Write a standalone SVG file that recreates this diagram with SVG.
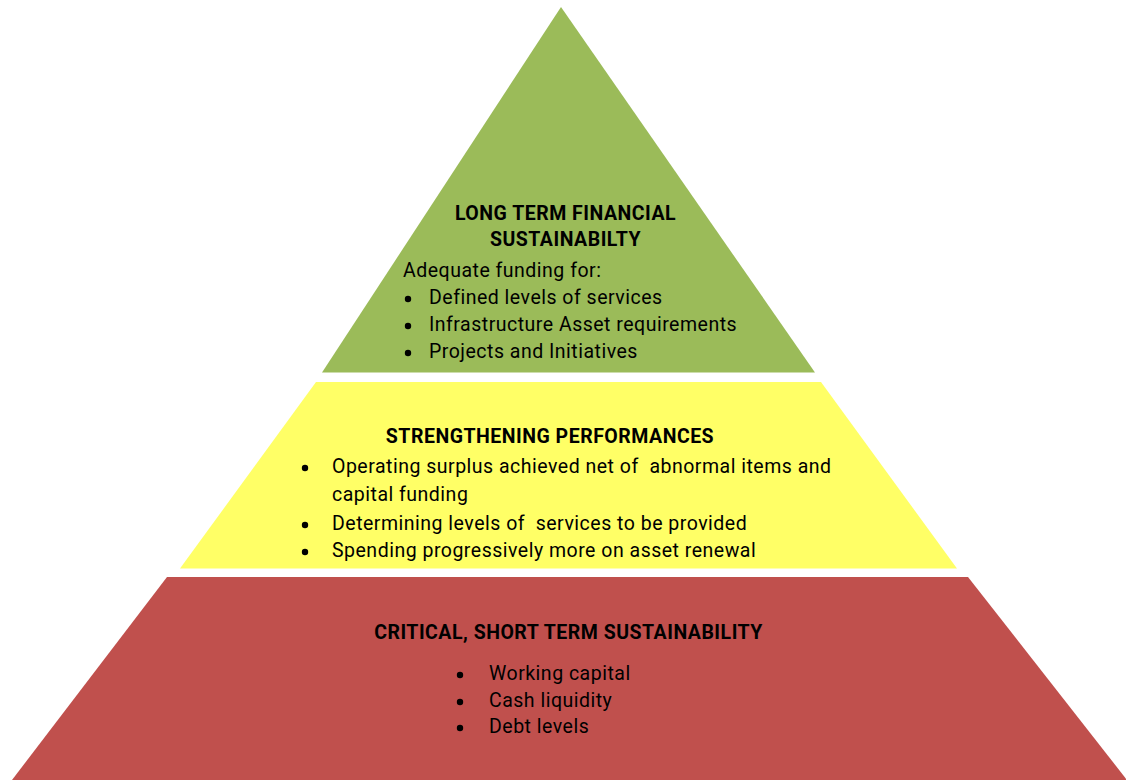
<svg xmlns="http://www.w3.org/2000/svg" width="1126" height="780" viewBox="0 0 1126 780">
<style>
text { font-family: Roboto, "Liberation Sans", sans-serif; fill: #000; white-space: pre; letter-spacing: 0.5px; }
.t { font-size: 19.5px; font-weight: bold; text-anchor: middle; }
.b { font-size: 19.5px; }
.d { fill: #000; }
</style>
<rect width="1126" height="780" fill="#fff"/>
<g id="tier-top">
<polygon points="561,7 815,372.5 322,372.5" fill="#9BBB59"/>
<text class="t" x="565.5" y="220">LONG TERM FINANCIAL</text>
<text class="t" x="565.5" y="246">SUSTAINABILTY</text>
<text class="b" x="403" y="277">Adequate funding for:</text>
<circle class="d" cx="408" cy="299" r="3.2"/><text class="b" x="429" y="304">Defined levels of services</text>
<circle class="d" cx="408" cy="326" r="3.2"/><text class="b" x="429" y="331">Infrastructure Asset requirements</text>
<circle class="d" cx="408" cy="353" r="3.2"/><text class="b" x="429" y="358">Projects and Initiatives</text>
</g>
<g id="tier-middle">
<polygon points="316,382 821,382 957,568.5 180,568.5" fill="#FFFF66"/>
<text class="t" x="550" y="443">STRENGTHENING PERFORMANCES</text>
<circle class="d" cx="305" cy="468" r="3.2"/><text class="b" x="332" y="473">Operating surplus achieved net of  abnormal items and</text>
<text class="b" x="332" y="501">capital funding</text>
<circle class="d" cx="305" cy="525" r="3.2"/><text class="b" x="332" y="530">Determining levels of  services to be provided</text>
<circle class="d" cx="305" cy="552" r="3.2"/><text class="b" x="332" y="557">Spending progressively more on asset renewal</text>
</g>
<g id="tier-bottom">
<polygon points="167,577 968,577 1127,780 12,780" fill="#C0504D"/>
<text class="t" x="568.5" y="639">CRITICAL, SHORT TERM SUSTAINABILITY</text>
<circle class="d" cx="460" cy="675" r="3.2"/><text class="b" x="489" y="680">Working capital</text>
<circle class="d" cx="460" cy="702" r="3.2"/><text class="b" x="489" y="707">Cash liquidity</text>
<circle class="d" cx="460" cy="728" r="3.2"/><text class="b" x="489" y="733">Debt levels</text>
</g>
</svg>
